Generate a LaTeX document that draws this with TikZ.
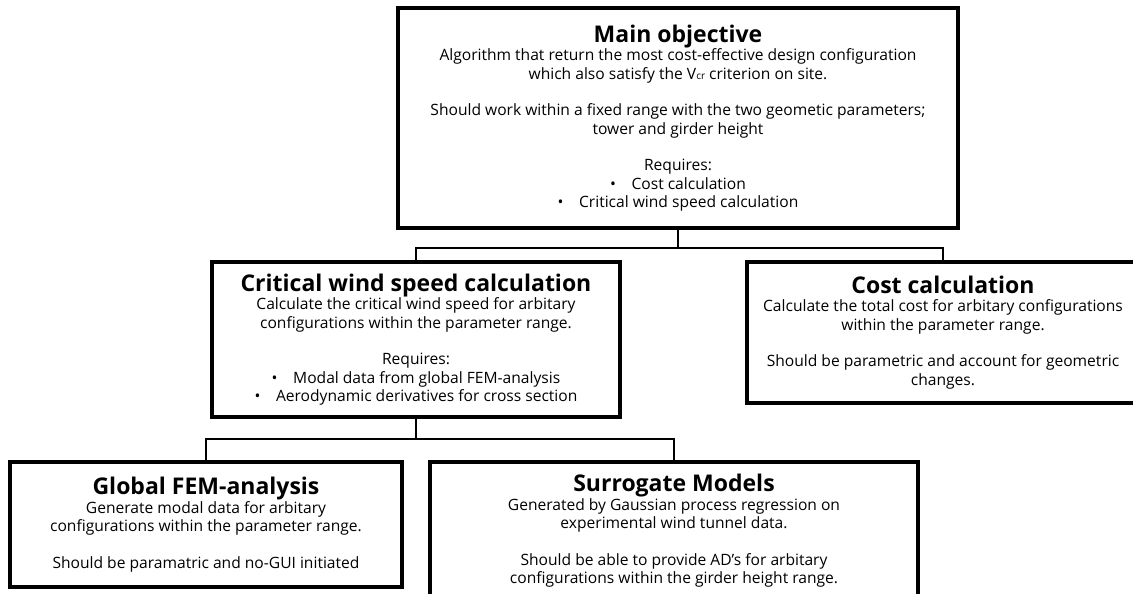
\documentclass[tikz,border=0pt]{standalone}
\usepackage{fontspec}
\setmainfont{Open Sans}
\newcommand{\boxhead}[1]{{\fontsize{23}{25}\selectfont\bfseries #1}}
\begin{document}
\begin{tikzpicture}[x=1pt,y=-1pt,
	box/.style={draw,line width=3.8pt,align=center,inner sep=0pt,font=\fontsize{15.6}{18.5}\selectfont},
	link/.style={line width=2pt}]
	\useasboundingbox (0,0) rectangle (1133,594);

	% boxes
	\node[box,minimum width=560pt,minimum height=220pt] (main) at (678,118) {\boxhead{Main objective}\\
		Algorithm that return the most cost-effective design configuration\\
		which also satisfy the V{\fontsize{10}{10}\selectfont cr} criterion on site.\\[18pt]
		Should work within a fixed range with the two geometic parameters;\\
		tower and girder height\\[18pt]
		Requires:\\
		\textbullet\quad Cost calculation\\
		\textbullet\quad Critical wind speed calculation};
	\node[box,minimum width=408pt,minimum height=155pt] (crit) at (416,339.5) {\boxhead{Critical wind speed calculation}\\
		Calculate the critical wind speed for arbitary\\
		configurations within the parameter range.\\[18pt]
		Requires:\\
		\textbullet\quad Modal data from global FEM-analysis\\
		\textbullet\quad Aerodynamic derivatives for cross section};
	\node[box,minimum width=392pt,minimum height=141pt] (cost) at (943,332.5) {\boxhead{Cost calculation}\\
		Calculate the total cost for arbitary configurations\\
		within the parameter range.\\[18pt]
		Should be parametric and account for geometric\\
		changes.};
	\node[box,minimum width=392pt,minimum height=125pt] (fem) at (206,524.5) {\boxhead{Global FEM-analysis}\\
		Generate modal data for arbitary\\
		configurations within the parameter range.\\[18pt]
		Should be paramatric and no-GUI initiated};
	\node[box,minimum width=488pt,minimum height=138pt] (sur) at (674,531) {\boxhead{Surrogate Models}\\
		Generated by Gaussian process regression on\\
		experimental wind tunnel data.\\[18pt]
		Should be able to provide AD's for arbitary\\
		configurations within the girder height range.};

	% connectors
	\draw[link] (main.south) -- ++(0,18) -| (crit.north);
	\draw[link] (main.south) -- ++(0,18) -| (cost.north);
	\draw[link] (crit.south) -- ++(0,20) -| (fem.north);
	\draw[link] (crit.south) -- ++(0,20) -| (sur.north);
\end{tikzpicture}
\end{document}
